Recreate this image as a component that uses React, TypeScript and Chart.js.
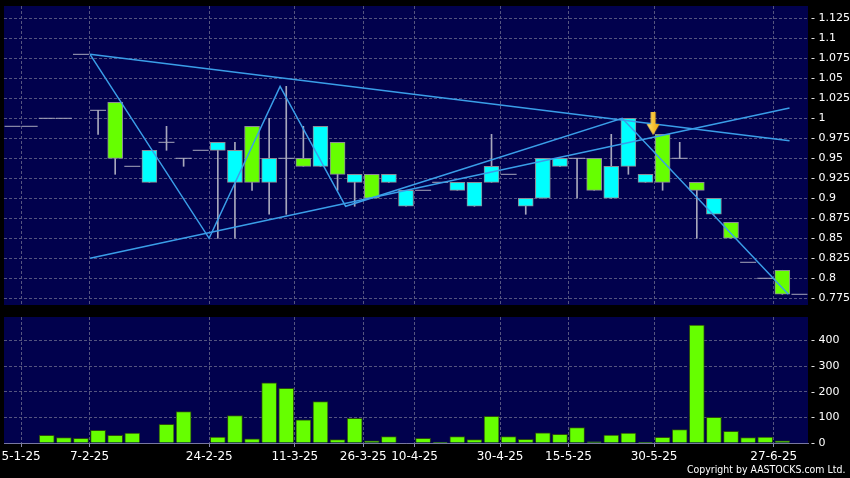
import React, { useEffect, useRef } from 'react';
import { Chart, registerables } from 'chart.js';
Chart.register(...registerables);

// ---- data ----
const xLabels = ['5-1-25', '7-2-25', '24-2-25', '11-3-25', '26-3-25', '10-4-25', '30-4-25', '15-5-25', '30-5-25', '27-6-25'];
const xLabelBars = [1, 5, 12, 17, 21, 24, 29, 33, 38, 45];

const opens = [0.99, 0.99, 1.0, 1.0, 1.08, 1.01, 1.02, 0.94, 0.92, 0.97, 0.95, 0.96, 0.96, 0.92, 0.99, 0.92, 0.95, 0.95, 0.94, 0.97, 0.92, 0.93, 0.92, 0.89, 0.91, 0.92, 0.91, 0.89, 0.92, 0.93, 0.89, 0.90, 0.94, 0.95, 0.95, 0.90, 0.94, 0.92, 0.98, 0.95, 0.92, 0.88, 0.87, 0.82, 0.80, 0.81, 0.78];
const highs = [0.99, 0.99, 1.0, 1.0, 1.08, 1.01, 1.02, 0.94, 0.96, 0.99, 0.95, 0.96, 0.97, 0.97, 0.99, 1.0, 1.04, 0.99, 0.99, 0.97, 0.93, 0.93, 0.93, 0.91, 0.91, 0.92, 0.92, 0.92, 0.98, 0.93, 0.90, 0.95, 0.95, 0.95, 0.95, 0.98, 1.0, 0.93, 0.98, 0.97, 0.92, 0.90, 0.87, 0.82, 0.80, 0.81, 0.78];
const lows = [0.99, 0.99, 1.0, 1.0, 1.08, 0.98, 0.93, 0.94, 0.92, 0.96, 0.94, 0.96, 0.85, 0.85, 0.91, 0.88, 0.88, 0.94, 0.94, 0.91, 0.89, 0.90, 0.92, 0.89, 0.91, 0.92, 0.91, 0.89, 0.92, 0.93, 0.88, 0.90, 0.94, 0.90, 0.91, 0.90, 0.93, 0.92, 0.91, 0.95, 0.85, 0.88, 0.85, 0.82, 0.80, 0.78, 0.78];
const closes = [0.99, 0.99, 1.0, 1.0, 1.08, 1.01, 0.95, 0.94, 0.96, 0.97, 0.95, 0.96, 0.97, 0.96, 0.92, 0.95, 0.95, 0.94, 0.99, 0.93, 0.93, 0.90, 0.93, 0.91, 0.91, 0.92, 0.92, 0.92, 0.94, 0.93, 0.90, 0.95, 0.95, 0.95, 0.91, 0.94, 1.0, 0.93, 0.92, 0.95, 0.91, 0.90, 0.85, 0.82, 0.80, 0.78, 0.78];
const volumes = [0, 0, 30, 21, 18, 49, 30, 39, 0, 73, 122, 0, 23, 107, 16, 234, 213, 90, 161, 13, 96, 8, 25, 0, 18, 4, 25, 13, 104, 25, 14, 40, 34, 60, 5, 31, 39, 4, 22, 52, 460, 100, 45, 21, 23, 8, 0];

const zigzagX = [4.53, 11.49, 15.64, 19.47, 35.64, 45.35];
const zigzagY = [1.08, 0.85, 1.04, 0.89, 1.0, 0.78];
const trendAX = [4.53, 45.42];
const trendAY = [1.08, 0.972];
const trendBX = [4.53, 45.42];
const trendBY = [0.825, 1.013];
const signalX = [37.45];
const signalY = [0.979];

const priceTicks = [0.775, 0.8, 0.825, 0.85, 0.875, 0.9, 0.925, 0.95, 0.975, 1, 1.025, 1.05, 1.075, 1.1, 1.125];
const volumeTicks = [0, 100, 200, 300, 400];

// ---- styles ----
const NAVY = '#01014d';
const GRID = '#55557f';
const GREEN = '#66ff00';
const CYAN = '#00ffff';
const WICK = '#a8a8bc';
const LINE = '#3a9ee8';
const FONT = 'DejaVu Sans';

const navyBg = {
  id: 'navyBg',
  beforeDraw(chart: any) {
    const { ctx, chartArea: a } = chart;
    ctx.save();
    ctx.fillStyle = NAVY;
    ctx.fillRect(a.left, a.top, a.right - a.left, a.bottom - a.top);
    ctx.restore();
  },
};

function fmt(v: number) {
  return String(+v.toFixed(3));
}

function xScale(showLabels: boolean) {
  return {
    type: 'linear',
    min: -0.5,
    max: 46.5,
    offset: false,
    afterBuildTicks: (s: any) => {
      s.ticks = xLabelBars.map((i) => ({ value: i - 0.5 }));
    },
    afterFit: (s: any) => {
      s.height = showLabels ? 35 : 0;
      s.paddingLeft = 0;
      s.paddingRight = 0;
    },
    ticks: {
      display: showLabels,
      autoSkip: false,
      maxRotation: 0,
      minRotation: 0,
      color: '#ffffff',
      font: { family: FONT, size: 12 },
      padding: 3,
      callback: (v: number) => {
        const k = xLabelBars.indexOf(Math.round(v + 0.5));
        return k >= 0 ? xLabels[k] : '';
      },
    },
    grid: {
      color: GRID,
      offset: false,
      drawTicks: showLabels,
      tickLength: 4,
      tickColor: '#8888aa',
    },
    border: { display: showLabels, color: '#7878a0', dash: [3, 2] },
  };
}

function makeArrow() {
  const c = document.createElement('canvas');
  c.width = 14;
  c.height = 46;
  const g = c.getContext('2d')!;
  const grad = g.createLinearGradient(0, 0, 14, 0);
  grad.addColorStop(0, '#ffe872');
  grad.addColorStop(1, '#eea000');
  g.fillStyle = grad;
  g.beginPath();
  g.moveTo(4.5, 0);
  g.lineTo(9.5, 0);
  g.lineTo(9.5, 12);
  g.lineTo(13.5, 12);
  g.lineTo(7, 23);
  g.lineTo(0.5, 12);
  g.lineTo(4.5, 12);
  g.closePath();
  g.fill();
  return c;
}

function priceConfig(): any {
  const idx = opens.map((_, i) => i);
  const bodyIdx = idx.filter((i) => opens[i] !== closes[i]);
  const dojiIdx = idx.filter((i) => opens[i] === closes[i]);
  const wickIdx = idx.filter((i) => highs[i] > lows[i]);
  const line = (xs: number[], ys: number[]) => ({
    type: 'line',
    data: xs.map((x, i) => ({ x, y: ys[i] })),
    borderColor: LINE,
    borderWidth: 1.5,
    pointRadius: 0,
    tension: 0,
    order: 1,
  });
  return {
    type: 'bar',
    data: {
      datasets: [
        {
          type: 'bar',
          data: wickIdx.map((i) => ({ x: i, y: [lows[i], highs[i]] })),
          backgroundColor: WICK,
          borderWidth: 0,
          barThickness: 1,
          grouped: false,
          order: 4,
        },
        {
          type: 'scatter',
          data: dojiIdx.map((i) => ({ x: i, y: closes[i] })),
          pointStyle: 'line',
          pointRadius: 8,
          borderColor: WICK,
          borderWidth: 1,
          order: 3,
        },
        {
          type: 'bar',
          data: bodyIdx.map((i) => ({ x: i, y: [Math.min(opens[i], closes[i]), Math.max(opens[i], closes[i])] })),
          backgroundColor: bodyIdx.map((i) => (closes[i] < opens[i] ? GREEN : CYAN)),
          borderColor: '#8c8c96',
          borderWidth: 1,
          borderSkipped: false,
          barThickness: 15,
          grouped: false,
          order: 2,
        },
        line(trendAX, trendAY),
        line(trendBX, trendBY),
        line(zigzagX, zigzagY),
        {
          type: 'scatter',
          data: signalX.map((x, i) => ({ x, y: signalY[i] })),
          pointStyle: makeArrow(),
          order: 0,
        },
      ],
    },
    options: {
      responsive: false,
      animation: false,
      events: [],
      layout: { autoPadding: false, padding: { top: 6, left: 4, right: 0, bottom: 6 } },
      plugins: { legend: { display: false }, tooltip: { enabled: false } },
      scales: {
        x: xScale(false),
        y: {
          type: 'linear',
          position: 'right',
          min: 0.7666,
          max: 1.1404,
          afterBuildTicks: (s: any) => {
            s.ticks = priceTicks.map((v) => ({ value: v }));
          },
          afterFit: (s: any) => {
            s.width = 42;
            s.paddingTop = 0;
            s.paddingBottom = 0;
          },
          ticks: {
            color: '#ffffff',
            font: { family: FONT, size: 11 },
            padding: 3,
            callback: (v: number) => '- ' + fmt(v),
          },
          grid: { color: GRID, drawTicks: false },
          border: { display: false, dash: [3, 2] },
        },
      },
    },
    plugins: [navyBg],
  };
}

function volConfig(): any {
  return {
    type: 'bar',
    data: {
      datasets: [
        {
          data: volumes.map((v, i) => ({ x: i, y: v })),
          backgroundColor: GREEN,
          borderColor: '#2b4a10',
          borderWidth: 1,
          barThickness: 15,
        },
      ],
    },
    options: {
      responsive: false,
      animation: false,
      events: [],
      layout: { autoPadding: false, padding: { top: 6, left: 4, right: 0, bottom: 0 } },
      plugins: { legend: { display: false }, tooltip: { enabled: false } },
      scales: {
        x: xScale(true),
        y: {
          type: 'linear',
          position: 'right',
          min: 0,
          max: 491,
          afterBuildTicks: (s: any) => {
            s.ticks = volumeTicks.map((v) => ({ value: v }));
          },
          afterFit: (s: any) => {
            s.width = 42;
            s.paddingTop = 0;
            s.paddingBottom = 0;
          },
          ticks: {
            color: '#ffffff',
            font: { family: FONT, size: 11 },
            padding: 3,
            callback: (v: number) => '- ' + fmt(v),
          },
          grid: { color: GRID, drawTicks: false },
          border: { display: false, dash: [3, 2] },
        },
      },
    },
    plugins: [navyBg],
  };
}

export default function App() {
  const priceRef = useRef<HTMLCanvasElement>(null);
  const volRef = useRef<HTMLCanvasElement>(null);
  useEffect(() => {
    document.body.style.margin = '0';
    document.body.style.background = '#000';
    const pc = new Chart(priceRef.current as HTMLCanvasElement, priceConfig());
    const vc = new Chart(volRef.current as HTMLCanvasElement, volConfig());
    return () => {
      pc.destroy();
      vc.destroy();
    };
  }, []);
  return (
    <div style={{ position: 'relative', width: 850, height: 478, background: '#000', overflow: 'hidden' }}>
      <canvas ref={priceRef} width={850} height={311} style={{ position: 'absolute', left: 0, top: 0 }} />
      <canvas ref={volRef} width={850} height={167} style={{ position: 'absolute', left: 0, top: 311 }} />
      <div
        style={{
          position: 'absolute',
          left: 687,
          top: 463,
          fontFamily: FONT,
          fontSize: 11,
          lineHeight: '13px',
          color: '#ffffff',
          whiteSpace: 'nowrap',
          transform: 'scaleX(0.855)',
          transformOrigin: 'left top',
        }}
      >
        Copyright by AASTOCKS.com Ltd.
      </div>
    </div>
  );
}
